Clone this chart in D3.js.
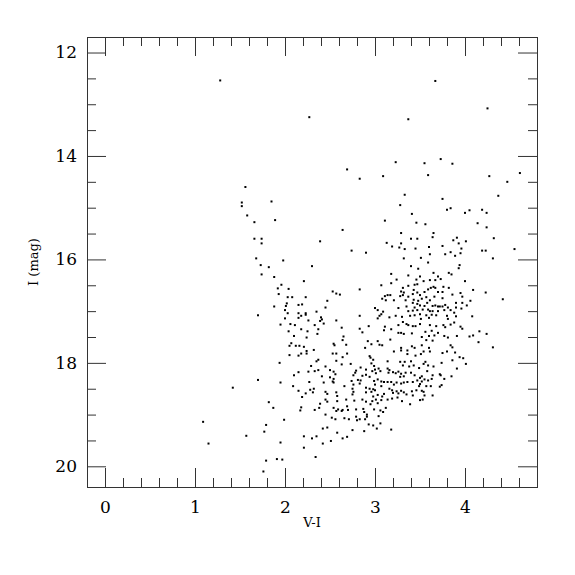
<!DOCTYPE html>
<html>
<head>
<meta charset="utf-8">
<script src="https://cdn.jsdelivr.net/npm/d3@7"></script>
<style>
  body { margin: 0; background: #fff; }
</style>
</head>
<body>
<script>
// colour-magnitude diagram, points as [V-I, I]
const brightStars = [
  [1.28,12.54],[3.67,12.55],[4.25,13.08],[2.27,13.25],[3.37,13.29],[3.55,14.14],[3.73,14.06],
  [3.86,14.15],[3.23,14.12],[2.69,14.26],[2.83,14.44],[3.09,14.39],[3.59,14.37],[4.27,14.39],
  [4.61,14.33],[4.47,14.5],[4.37,14.77],[3.75,14.83],[3.33,14.75],[1.56,14.6]
];

const blueBranch = [
  [1.52,14.9],[1.52,14.97],[1.85,14.88],[1.58,15.15],[1.66,15.28],[1.89,15.24],[1.66,15.6],
  [1.74,15.6],[1.74,15.69],[1.68,15.98],[1.98,16.02],[1.73,16.11],[1.82,16.15],[1.74,16.29],
  [1.88,16.34],[1.96,16.49],[1.92,16.56],[2.04,16.57],[1.93,16.67],[2.03,16.73],[2.08,16.73],
  [2.02,16.85],[2.01,16.9],[1.88,16.91],[2.0,16.98],[2.03,17.04],[1.70,17.08],[2.0,17.14],
  [1.95,17.26],[2.06,17.25],[2.04,17.39],[2.10,17.48],[2.07,17.62],[2.05,17.67],[2.05,17.85],
  [1.94,18.0],[2.10,18.24],[1.70,18.33],[1.95,18.38],[2.09,18.45],[1.42,18.48],[1.82,18.76],
  [1.87,18.87],[1.09,19.14],[1.99,19.1],[1.79,19.2],[1.77,19.33],[1.57,19.41],[1.15,19.56],
  [1.95,19.54],[1.79,19.89],[1.91,19.86],[1.97,19.87],[1.76,20.1]
];

const redGiants = [
  [3.28,14.95],[3.41,15.12],[3.46,15.29],[3.11,15.25],[2.64,15.43],[3.29,15.49],[2.39,15.65],
  [3.40,15.6],[3.47,15.6],[3.13,15.68],[3.29,15.69],[3.19,15.75],[3.27,15.77],[3.33,15.8],
  [3.45,15.79],[2.74,15.83],[2.90,15.87],[3.32,15.98],[2.30,16.13],[3.40,16.13],[3.48,16.18],
  [3.18,16.28],[2.21,16.42],[3.24,16.39],[3.37,16.31],[3.18,16.46],[3.46,16.39],[3.07,16.5],
  [3.44,16.49],[3.37,16.51],[3.47,16.48],[3.31,16.55],[2.83,16.58],[2.53,16.62],[2.57,16.66],
  [2.61,16.68],[3.29,16.62],[3.32,16.64],[3.43,16.59],[3.28,16.71],[3.31,16.69],[3.37,16.72],
  [3.42,16.67],[3.47,16.64],[3.11,16.71],[3.14,16.69],[3.17,16.69],[2.23,16.73],[3.08,16.76],
  [3.12,16.79],[3.21,16.79],[3.34,16.79],[3.43,16.78],[3.48,16.8],[2.47,16.8],[2.15,16.88],
  [2.19,16.87],[3.42,16.84],[3.47,16.86],[3.35,16.91],[2.45,16.93],[3.26,16.94],[3.0,16.94],
  [3.44,16.93],[3.03,16.98],[2.35,17.01],[3.09,17.01],[3.37,17.0],[3.42,16.99],[3.47,16.98],
  [2.15,17.04],[2.23,17.04],[2.23,17.07],[2.18,17.09],[2.15,17.13],[2.40,17.12],[2.41,17.16],
  [2.83,17.09],[3.03,17.14],[3.05,17.09],[3.07,17.06],[3.16,17.12],[3.23,17.09],[3.30,17.11],
  [3.39,17.09],[3.44,17.08],[2.26,17.18],[2.39,17.19],[2.57,17.18],[2.43,17.24],[3.31,17.21],
  [3.35,17.25],[3.26,17.27],[3.37,17.27],[3.42,17.29],[3.45,17.29],[2.11,17.27],[2.33,17.27],
  [2.37,17.35],[2.63,17.32],[2.83,17.34],[3.11,17.3],[3.10,17.37],[3.18,17.35],[2.93,17.29],
  [2.18,17.35],[2.25,17.39],[2.24,17.51],[2.36,17.44],[2.65,17.49],[2.86,17.41],[3.26,17.42],
  [3.29,17.42],[3.32,17.44],[3.41,17.43],
  [3.80,15.04],[3.84,15.01],[4.0,15.1],[4.05,15.05],[4.19,15.04],[4.24,15.1],[3.56,15.32],
  [4.14,15.3],[4.24,15.38],[3.65,15.49],[3.64,15.57],[3.91,15.58],[3.87,15.63],[4.01,15.65],
  [4.32,15.59],[3.93,15.69],[3.60,15.76],[3.75,15.74],[3.96,15.79],[4.19,15.83],[4.23,15.83],
  [4.55,15.8],[3.84,15.86],[3.95,15.88],[3.61,15.9],[3.78,15.9],[3.89,15.93],[3.51,15.97],
  [4.31,15.98],[3.59,16.06],[3.94,16.11],[3.93,16.17],[3.65,16.26],[3.82,16.26],[3.85,16.29],
  [3.50,16.33],[3.70,16.33],[3.73,16.38],[3.61,16.4],[3.67,16.4],[3.54,16.42],[4.0,16.42],
  [3.76,16.53],[3.82,16.55],[3.62,16.55],[3.65,16.53],[3.67,16.55],[4.09,16.59],[4.23,16.64],
  [4.42,16.77],[3.59,16.58],[3.55,16.63],[3.70,16.63],[3.75,16.63],[3.86,16.68],[3.97,16.72],
  [3.50,16.69],[3.52,16.76],[3.57,16.73],[3.66,16.72],[3.75,16.75],[3.95,16.65],[4.06,16.8],
  [3.61,16.79],[3.58,16.84],[3.78,16.88],[3.90,16.84],[3.97,16.84],[4.02,16.89],[3.50,16.89],
  [3.55,16.9],[3.64,16.9],[3.67,16.89],[3.70,16.91],[3.72,16.91],[3.81,16.93],[3.75,16.91],
  [3.90,16.93],[3.53,16.97],[3.59,16.97],[3.61,17.0],[3.64,17.0],[3.70,17.0],[3.77,16.98],
  [3.84,16.98],[3.88,17.03],[3.96,16.95],[4.08,17.1],[3.50,17.06],[3.57,17.08],[3.63,17.07],
  [3.68,17.08],[3.80,17.09],[3.90,17.1],[3.51,17.15],[3.60,17.13],[3.81,17.15],[3.50,17.25],
  [3.61,17.27],[3.68,17.29],[3.76,17.27],[3.78,17.31],[3.84,17.26],[3.88,17.22],[3.95,17.3],
  [3.97,17.34],[3.56,17.4],[3.63,17.38],[3.66,17.47],[3.70,17.42],[3.60,17.48],[3.52,17.5],
  [3.77,17.48],[3.81,17.51],[3.91,17.48],[4.05,17.49],[4.09,17.47],[4.16,17.39],[4.24,17.44]
];

const faintStars = [
  [2.21,17.69],[2.24,17.77],[2.24,17.82],[2.15,17.86],[2.18,17.82],[2.16,17.67],[2.12,17.67],
  [2.32,17.75],[2.54,17.63],[2.55,17.66],[2.64,17.56],[2.68,17.65],[2.53,17.82],[2.57,17.82],
  [2.69,17.82],[2.64,17.89],[2.57,17.96],[2.37,17.94],[2.35,17.97],[2.29,18.06],[2.33,18.16],
  [2.37,18.14],[2.26,18.17],[2.15,18.18],[2.45,18.07],[2.63,18.03],[2.73,18.02],[2.89,17.71],
  [2.92,17.58],[2.96,17.64],[3.03,17.58],[3.05,17.65],[3.08,17.66],[3.17,17.55],[3.21,17.78],
  [3.29,17.76],[3.29,17.71],[3.36,17.76],[3.41,17.68],[3.44,17.71],[3.36,17.83],[3.45,17.86],
  [2.94,17.87],[2.95,17.9],[2.98,17.94],[3.14,17.97],[3.28,17.98],[3.33,17.98],[3.40,17.97],
  [3.31,18.05],[3.38,18.07],[3.43,18.05],[2.96,18.01],[2.99,18.06],[2.79,18.15],[2.78,18.19],
  [2.84,18.09],[2.90,18.13],[2.97,18.16],[3.0,18.13],[3.01,18.2],[3.04,18.11],[3.06,18.16],
  [3.14,18.11],[3.16,18.14],[3.15,18.19],[3.20,18.18],[3.23,18.2],[3.26,18.17],[3.29,18.21],
  [3.34,18.19],[3.40,18.19],[3.44,18.24],[3.32,18.26],[3.28,18.27],[2.94,18.27],[2.86,18.25],
  [2.90,18.23],[2.76,18.24],[2.50,18.14],[2.54,18.17],[2.56,18.22],[2.50,18.28],[2.41,18.26],
  [2.54,18.31],[2.53,18.36],[2.54,18.38],[2.27,18.37],[2.43,18.38],[2.66,18.45],[2.74,18.35],
  [2.76,18.42],[2.81,18.33],[2.84,18.34],[2.83,18.4],[2.99,18.35],[3.03,18.32],[3.07,18.36],
  [3.10,18.37],[3.0,18.42],[3.07,18.45],[3.14,18.37],[3.18,18.37],[3.21,18.42],[3.24,18.38],
  [3.29,18.4],[3.32,18.38],[3.36,18.37],[3.42,18.37],[3.47,18.34],[2.15,18.54],[2.28,18.52],
  [2.32,18.5],[2.23,18.59],[2.31,18.57],[2.45,18.56],[2.47,18.6],[2.57,18.57],[2.58,18.64],
  [2.75,18.5],[2.76,18.56],[2.75,18.61],[2.90,18.48],[2.90,18.57],[2.94,18.5],[2.96,18.56],
  [2.98,18.51],[3.0,18.53],[3.03,18.62],[2.98,18.65],[3.16,18.5],[3.19,18.53],[3.20,18.58],
  [3.24,18.55],[3.29,18.54],[3.26,18.59],[3.32,18.57],[3.35,18.61],[3.41,18.55],[3.46,18.53],
  [3.42,18.63],[3.10,18.6],[3.08,18.65],[2.19,18.66],[2.45,18.71],[2.47,18.75],[2.68,18.71],
  [2.58,18.74],[2.77,18.73],[2.86,18.71],[2.90,18.75],[2.97,18.74],[3.01,18.71],[3.03,18.78],
  [2.95,18.8],[3.07,18.72],[3.14,18.71],[3.19,18.69],[3.25,18.67],[3.30,18.74],[3.39,18.8],
  [2.39,18.79],[2.18,18.86],[2.17,18.92],[2.33,18.91],[2.38,18.87],[2.54,18.87],[2.57,18.93],
  [2.59,18.9],[2.63,18.93],[2.64,18.91],[2.69,18.84],[2.70,18.91],[2.79,18.9],[2.87,18.89],
  [2.88,18.95],[2.91,19.0],[2.99,18.9],[3.06,18.92],[3.09,18.95],[3.12,18.87],[2.45,19.0],
  [2.52,19.06],[2.56,19.09],[2.66,19.07],[2.71,19.09],[2.79,19.04],[2.80,19.11],[2.83,19.09],
  [2.89,19.09],[2.91,19.04],[3.04,19.03],[2.93,19.19],[2.98,19.21],[3.02,19.27],[3.06,19.17],
  [2.88,19.32],[2.75,19.3],[2.47,19.25],[2.42,19.27],[2.58,19.35],[2.69,19.43],[2.64,19.46],
  [2.51,19.51],[2.21,19.42],[2.30,19.46],[2.35,19.42],[2.42,19.56],[2.21,19.64],[2.34,19.82],
  [3.18,19.29],
  [3.52,17.66],[3.57,17.56],[3.64,17.57],[3.60,17.71],[3.61,17.78],[3.54,17.78],[3.51,17.83],
  [3.84,17.66],[3.86,17.7],[4.15,17.6],[4.31,17.7],[3.80,17.78],[3.75,17.81],[3.89,17.8],
  [3.94,17.89],[3.98,17.91],[3.86,17.95],[4.01,18.02],[3.56,17.98],[3.54,18.02],[3.59,18.05],
  [3.74,18.0],[3.65,18.07],[3.91,18.11],[3.49,18.1],[3.58,18.16],[3.64,18.24],[3.52,18.26],
  [3.50,18.29],[3.72,18.22],[3.73,18.24],[3.85,18.26],[3.55,18.32],[3.59,18.34],[3.63,18.31],
  [3.77,18.31],[3.52,18.36],[3.57,18.45],[3.62,18.45],[3.50,18.41],[3.49,18.45],[3.74,18.43],
  [3.72,18.46],[3.52,18.54],[3.54,18.56],[3.55,18.63],[3.64,18.63],[3.50,18.72],[3.53,18.71]
];

const xMajor = [0, 1, 2, 3, 4];
const yMajor = [12, 14, 16, 18, 20];

let width = 575;
let height = 575;
let margins = { top: 37, left: 87, size: 450 };

let xScale = d3.scaleLinear([-0.2, 4.8], [margins.left, margins.left + margins.size]);
let yScale = d3.scaleLinear([11.7, 20.4], [margins.top, margins.top + margins.size]);

let xMinor = d3.range(-1, 24).map(i => +(i * 0.2).toFixed(1)).filter(v => !xMajor.includes(v));
let yMinor = d3.range(24, 41).map(i => i * 0.5).filter(v => !yMajor.includes(v));

let svg = d3.create('svg')
  .attr('width', width)
  .attr('height', height)
  .style('background', '#fff');

let plotLeft = margins.left;
let plotTop = margins.top;
let plotRight = plotLeft + margins.size;
let plotBottom = plotTop + margins.size;
let font = '"DejaVu Serif", serif';

function drawTicks(axis, transform) {
  svg.append('g')
    .attr('transform', transform)
    .call(axis)
    .call(g => g.select('.domain').remove())
    .call(g => g.selectAll('.tick line').attr('stroke', '#333'))
    .selectAll('text')
    .attr('font-family', font)
    .attr('font-size', 17)
    .attr('fill', '#000');
}

// bottom and top
drawTicks(d3.axisBottom(xScale).tickValues(xMajor).tickSize(-19).tickPadding(14).tickFormat(d3.format('d')), `translate(0,${plotBottom})`);
drawTicks(d3.axisBottom(xScale).tickValues(xMinor).tickSize(-9).tickFormat(''), `translate(0,${plotBottom})`);
drawTicks(d3.axisTop(xScale).tickValues(xMajor).tickSize(-19).tickFormat(''), `translate(0,${plotTop})`);
drawTicks(d3.axisTop(xScale).tickValues(xMinor).tickSize(-9).tickFormat(''), `translate(0,${plotTop})`);
// left and right
drawTicks(d3.axisLeft(yScale).tickValues(yMajor).tickSize(-19).tickPadding(10).tickFormat(d3.format('d')), `translate(${plotLeft},0)`);
drawTicks(d3.axisLeft(yScale).tickValues(yMinor).tickSize(-9).tickFormat(''), `translate(${plotLeft},0)`);
drawTicks(d3.axisRight(yScale).tickValues(yMajor).tickSize(-19).tickFormat(''), `translate(${plotRight},0)`);
drawTicks(d3.axisRight(yScale).tickValues(yMinor).tickSize(-9).tickFormat(''), `translate(${plotRight},0)`);

svg.append('rect')
  .attr('x', plotLeft + 0.5)
  .attr('y', plotTop + 0.5)
  .attr('width', margins.size)
  .attr('height', margins.size)
  .attr('fill', 'none')
  .attr('stroke', '#333');

let stars = [...brightStars, ...blueBranch, ...redGiants, ...faintStars];

svg.append('g')
  .selectAll('rect')
  .data(stars)
  .join('rect')
  .attr('x', d => xScale(d[0]) - 1)
  .attr('y', d => yScale(d[1]) - 1)
  .attr('width', 2)
  .attr('height', 2)
  .attr('fill', '#000');

svg.append('text')
  .text('V-I')
  .attr('x', (plotLeft + plotRight) / 2)
  .attr('y', 527)
  .attr('font-family', font)
  .attr('font-size', 13)
  .attr('text-anchor', 'middle');

svg.append('text')
  .text('I (mag)')
  .attr('transform', `translate(38,${(plotTop + plotBottom) / 2}) rotate(-90)`)
  .attr('font-family', font)
  .attr('font-size', 13)
  .attr('text-anchor', 'middle');

document.body.append(svg.node());
</script>
</body>
</html>
